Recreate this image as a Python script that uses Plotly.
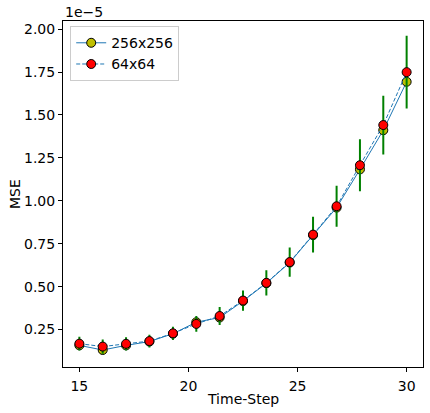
import plotly.graph_objects as go

time_step = [15.0, 16.07, 17.14, 18.21, 19.29, 20.36, 21.43, 22.5, 23.57, 24.64, 25.71, 26.79, 27.86, 28.93, 30.0]
# MSE values in units of 1e-5
mse_256 = [0.158, 0.131, 0.158, 0.180, 0.226, 0.293, 0.320, 0.416, 0.520, 0.640, 0.800, 0.960, 1.183, 1.411, 1.693]
mse_64 = [0.168, 0.151, 0.167, 0.183, 0.228, 0.283, 0.329, 0.419, 0.522, 0.643, 0.803, 0.968, 1.207, 1.441, 1.749]
err_64 = [0.034, 0.036, 0.033, 0.031, 0.033, 0.040, 0.047, 0.053, 0.068, 0.079, 0.098, 0.114, 0.145, 0.165, 0.206]

x_ticks = [15, 20, 25, 30]
y_ticks = [0.25, 0.50, 0.75, 1.00, 1.25, 1.50, 1.75, 2.00]
y_tick_text = ["0.25", "0.50", "0.75", "1.00", "1.25", "1.50", "1.75", "2.00"]

FONT = "DejaVu Sans"
BLUE = "#1f77b4"

fig = go.Figure()
fig.add_trace(go.Scatter(
    x=time_step, y=mse_256, name="256x256", mode="lines+markers",
    line=dict(color=BLUE, width=1),
    marker=dict(color="#bfbf00", size=9, line=dict(color="black", width=1)),
))
fig.add_trace(go.Scatter(
    x=time_step, y=mse_64, name="64x64", mode="lines+markers",
    line=dict(color=BLUE, width=1, dash="4px,2px"),
    marker=dict(color="#ff0000", size=9, line=dict(color="black", width=1)),
    error_y=dict(type="data", array=err_64, color="#008000", thickness=2, width=1),
))

fig.update_layout(
    width=430, height=413,
    margin=dict(l=63, r=7, t=21, b=46),
    paper_bgcolor="white", plot_bgcolor="white",
    font=dict(family=FONT, size=14, color="black"),
    showlegend=True,
    legend=dict(x=0.02, y=0.985, xanchor="left", yanchor="top",
                bgcolor="rgba(255,255,255,0.8)", bordercolor="#cccccc", borderwidth=1,
                font=dict(family=FONT, size=14), tracegroupgap=0),
    xaxis=dict(range=[14.25, 30.75], tickvals=x_ticks, showline=True, mirror=True,
               linecolor="black", linewidth=1, ticks="outside", ticklen=4, tickwidth=1,
               tickcolor="black", showgrid=False, zeroline=False, automargin=False,
               ticklabelstandoff=2,
               tickfont=dict(family=FONT, size=14)),
    yaxis=dict(range=[0.032, 2.047], tickvals=y_ticks, ticktext=y_tick_text, showline=True,
               mirror=True, linecolor="black", linewidth=1, ticks="outside", ticklen=4,
               tickwidth=1, tickcolor="black", showgrid=False, zeroline=False, automargin=False,
               tickfont=dict(family=FONT, size=14)),
    annotations=[
        dict(text="Time-Step", xref="paper", yref="paper", x=0.5, y=0, yshift=-22,
             xanchor="center", yanchor="top", showarrow=False, font=dict(family=FONT, size=14)),
        dict(text="MSE", xref="paper", yref="paper", x=0, y=0.5, xshift=-38,
             xanchor="right", yanchor="middle", textangle=-90, showarrow=False,
             font=dict(family=FONT, size=14)),
        dict(text="1e\u22125", xref="paper", yref="paper", x=0, y=1, yshift=-1,
             xanchor="left", yanchor="bottom", showarrow=False, font=dict(family=FONT, size=14)),
    ],
)

fig.write_html("out.html", config={"displayModeBar": False},
               post_script="document.body.style.margin='0px';")
